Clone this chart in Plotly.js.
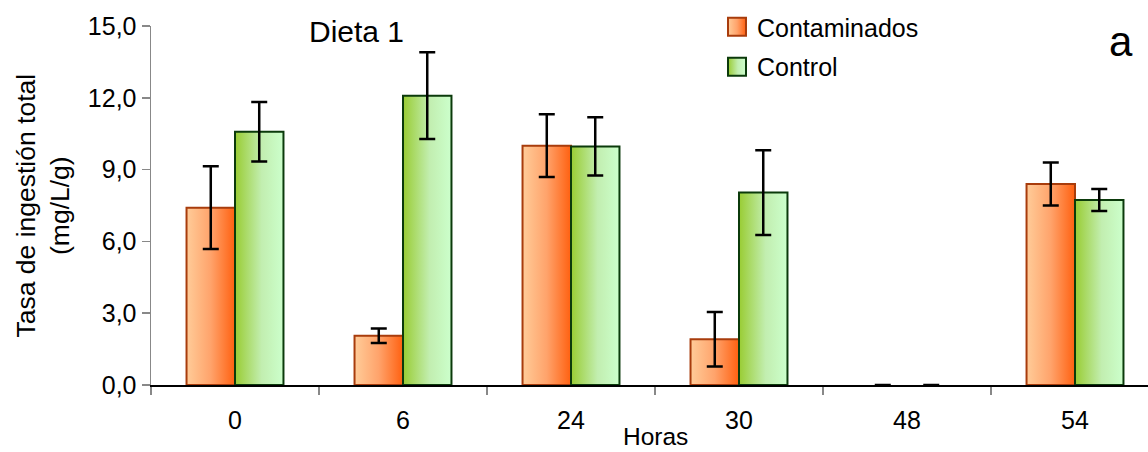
<!DOCTYPE html>
<html>
<head>
<meta charset="utf-8">
<script src="https://cdn.plot.ly/plotly-3.0.1.min.js"></script>
<style>
  html, body { margin: 0; padding: 0; background: #fff; }
  #chart { width: 1148px; height: 452px; }
</style>
</head>
<body>
<div id="chart"></div>
<script>
// Ingestion rate per sampling hour, diet 1
const horas = ['0', '6', '24', '30', '48', '54'];
const contaminados = [7.41, 2.06, 10.0, 1.91, 0, 8.40];
const errContaminados = [1.73, 0.30, 1.31, 1.14, 0, 0.90];
const control = [10.58, 12.09, 9.97, 8.04, 0, 7.73];
const errControl = [1.24, 1.81, 1.22, 1.77, 0, 0.46];
const yTicks = [0, 3, 6, 9, 12, 15];

const FONT = 'Liberation Sans, Arial, sans-serif';

// empty bars get no outline, only their (zero) error caps remain
const outline = vals => vals.map(v => (v === 0 ? 0 : 2));

const data = [
  {
    type: 'bar', name: 'Contaminados', x: horas, y: contaminados,
    marker: { color: '#FF9966', line: { color: '#A83C0C', width: outline(contaminados) } },
    error_y: { type: 'data', array: errContaminados, visible: true, color: '#000', thickness: 2.5, width: 8 },
    legend: 'legend'
  },
  {
    type: 'bar', name: 'Control', x: horas, y: control,
    marker: { color: '#B8E69A', line: { color: '#0B3A0B', width: outline(control) } },
    error_y: { type: 'data', array: errControl, visible: true, color: '#000', thickness: 2.5, width: 8 },
    legend: 'legend2'
  }
];

const layout = {
  width: 1148, height: 452,
  margin: { l: 151, r: 0, t: 26, b: 67, pad: 0 },
  paper_bgcolor: '#fff', plot_bgcolor: '#fff',
  font: { family: FONT, size: 25, color: '#000' },
  separators: ',.',
  barmode: 'group', bargap: 0.423, bargroupgap: 0,
  xaxis: {
    type: 'category', range: [-0.5, 5.4345],
    showgrid: false, zeroline: false,
    showline: true, linecolor: '#000', linewidth: 1.5,
    ticks: 'outside', tickson: 'boundaries', ticklen: 8, tickcolor: '#888', tickwidth: 1.5,
    ticklabelstandoff: 12,
    tickfont: { family: FONT, size: 25, color: '#000' }
  },
  yaxis: {
    range: [0, 15], tickvals: yTicks, tickformat: '.1f',
    showgrid: false, zeroline: false,
    showline: true, linecolor: '#888', linewidth: 1.5,
    ticks: 'outside', ticklen: 8, tickcolor: '#888', tickwidth: 1.5,
    tickfont: { family: FONT, size: 25, color: '#000' }
  },
  legend: {
    x: 0.5677, xanchor: 'left', y: 0.997, yanchor: 'middle',
    bgcolor: 'rgba(0,0,0,0)', borderwidth: 0,
    font: { family: FONT, size: 25, color: '#000' }
  },
  legend2: {
    x: 0.5677, xanchor: 'left', y: 0.886, yanchor: 'middle',
    bgcolor: 'rgba(0,0,0,0)', borderwidth: 0,
    font: { family: FONT, size: 25, color: '#000' }
  },
  annotations: [
    { text: 'Tasa de ingestión total<br>(mg/L/g)', xref: 'paper', yref: 'paper',
      x: -0.1093, y: 0.5, xanchor: 'center', yanchor: 'middle', textangle: -90,
      showarrow: false, font: { family: FONT, size: 26.5, color: '#000' } },
    { text: 'Horas', xref: 'x', yref: 'paper', x: 2.5, y: 0, yshift: -51,
      xanchor: 'center', yanchor: 'middle', showarrow: false, borderpad: 0,
      font: { family: FONT, size: 24.5, color: '#000' } },
    { text: 'Dieta 1', xref: 'paper', yref: 'paper', x: (356 - 151) / 997, y: 0.985,
      xanchor: 'center', yanchor: 'middle', showarrow: false,
      font: { family: FONT, size: 30, color: '#000' } },
    { text: 'a', xref: 'paper', yref: 'paper', x: 0.973, y: 0.957,
      xanchor: 'center', yanchor: 'middle', showarrow: false,
      font: { family: FONT, size: 42, color: '#000' } }
  ],
  showlegend: true
};

const gd = document.getElementById('chart');

// Horizontal two-tone fills for the bars and their legend swatches
function addGradient(defs, id, stops) {
  const ns = 'http://www.w3.org/2000/svg';
  const g = document.createElementNS(ns, 'linearGradient');
  g.setAttribute('id', id);
  g.setAttribute('x1', '0'); g.setAttribute('y1', '0');
  g.setAttribute('x2', '1'); g.setAttribute('y2', '0');
  stops.forEach(([off, col]) => {
    const s = document.createElementNS(ns, 'stop');
    s.setAttribute('offset', off);
    s.setAttribute('stop-color', col);
    g.appendChild(s);
  });
  defs.appendChild(g);
}

function paintBars() {
  const svg = gd.querySelector('svg.main-svg');
  let defs = svg.querySelector('defs');
  if (!defs) { defs = document.createElementNS('http://www.w3.org/2000/svg', 'defs'); svg.prepend(defs); }
  addGradient(defs, 'fillContaminados', [[0, '#FFCC99'], [0.5, '#FFA36B'], [1, '#FF6010']]);
  addGradient(defs, 'fillControl', [[0, '#99CC33'], [0.55, '#C2EEB0'], [1, '#CCFFCC']]);
  const ids = ['fillContaminados', 'fillControl'];

  gd.querySelectorAll('.barlayer .trace').forEach(tr => {
    const d = tr.__data__;
    const idx = d && d[0] && d[0].trace ? d[0].trace.index : 0;
    tr.querySelectorAll('.point path').forEach(p => { p.style.fill = 'url(#' + ids[idx] + ')'; });
  });

  gd.querySelectorAll('g.traces').forEach(item => {
    const d = item.__data__;
    const idx = d && d[0] && d[0].trace ? d[0].trace.index : 0;
    item.querySelectorAll('.legendpoints path').forEach(p => {
      p.setAttribute('d', 'M9,9H-9V-9H9Z');
      p.style.fill = 'url(#' + ids[idx] + ')';
      p.style.strokeWidth = '2px';
    });
  });
}

Plotly.newPlot(gd, data, layout, { staticPlot: true, displayModeBar: false }).then(paintBars);
</script>
</body>
</html>
